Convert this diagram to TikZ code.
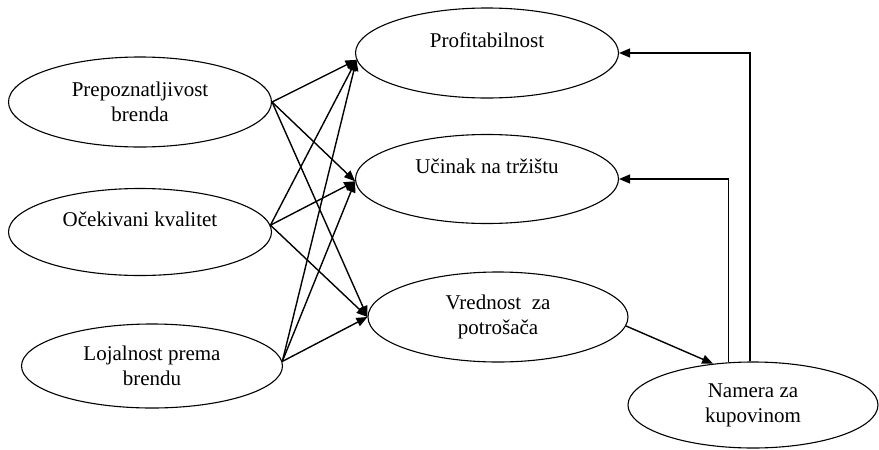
\documentclass[tikz,border=0pt]{standalone}
\usepackage{fontspec}
\setmainfont{Liberation Serif}
\usetikzlibrary{arrows.meta,shapes.geometric}

\begin{document}
\begin{tikzpicture}[
x=0.5pt,
y=-0.5pt,
>={Triangle[length=5.5pt,width=4.5pt]},
main node/.style={ellipse,
                  draw,
                  line width=0.55pt,
                  inner sep=0pt,
                  minimum width=131.5pt,
                  minimum height=45pt,
                  align=center,
                  font=\fontsize{10.5}{12.5}\selectfont},
link/.style={->,line width=0.7pt}]
\useasboundingbox (0,0) rectangle (879,450);
%left
  \node[main node] (prep) at (140,102) {Prepoznatljivost\\brenda};
  \node[main node, minimum height=43.5pt] (ocek) at (140,232) {Očekivani kvalitet\\~};
  \node[main node, minimum width=130.5pt, minimum height=42pt] (loj) at (152,366) {Lojalnost prema\\brendu};
%right
  \node[main node] (prof) at (487,53) {Profitabilnost\\~};
  \node[main node, minimum height=44.5pt] (ucin) at (487,179) {Učinak na tržištu\\~};
  \node[main node, minimum width=130pt] (vred) at (498,317) {Vrednost~ za\\potrošača};
  \node[main node, minimum width=125pt, minimum height=43pt] (nam) at (753,405) {Namera za\\kupovinom};
%paths
  \foreach \from/\angle in {prep/0,ocek/3,loj/2}{
    \draw[link] (\from.\angle) -- (prof.183);
    \draw[link] (\from.\angle) -- (ucin.181);
    \draw[link] (\from.\angle) -- (vred.west);
  }
  \draw[link] (vred.-4) -- (nam.134);
  \draw[link] (nam.120) |- (ucin.east);
  \draw[link] (nam.94) |- (prof.east);
\end{tikzpicture}
\end{document}
